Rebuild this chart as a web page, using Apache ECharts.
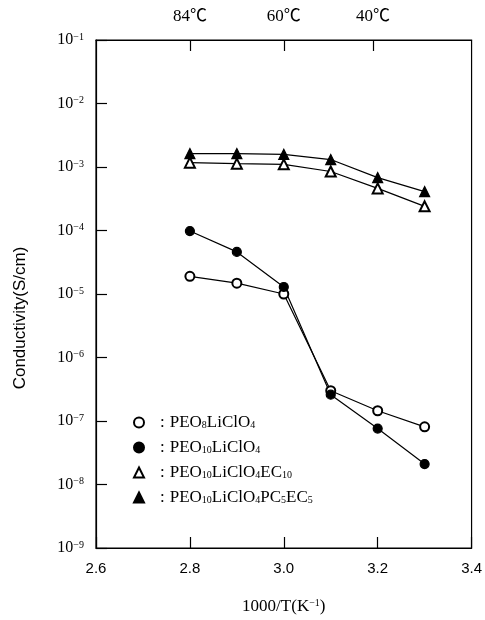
<!DOCTYPE html>
<html>
<head>
<meta charset="utf-8">
<script src="https://cdn.jsdelivr.net/npm/echarts@6/dist/echarts.min.js"></script>
<style>html,body{margin:0;padding:0;background:#fff}#c{width:485px;height:620px}</style>
</head>
<body>
<div id="c"></div>
<script>
// Data
const xValues = [2.8, 2.9, 3.0, 3.1, 3.2, 3.3];
const peo8LiClO4 = [1.9e-5, 1.48e-5, 1.0e-5, 3.0e-7, 1.45e-7, 8.1e-8];
const peo10LiClO4 = [9.8e-5, 4.6e-5, 1.29e-5, 2.6e-7, 7.6e-8, 2.1e-8];
const peo10EC10 = [1.17e-3, 1.13e-3, 1.1e-3, 8.5e-4, 4.6e-4, 2.4e-4];
const peo10PC5EC5 = [1.63e-3, 1.63e-3, 1.58e-3, 1.31e-3, 6.8e-4, 4.1e-4];
const xTicks = [2.6, 2.8, 3.0, 3.2, 3.4];
const topTickValues = [2.80, 3.00, 3.19];
const topTickLabels = ['84℃', '60℃', '40℃'];
const seriesNames = ['PEO8LiClO4', 'PEO10LiClO4', 'PEO10LiClO4EC10', 'PEO10LiClO4PC5EC5'];
const legendRich = {
  'PEO8LiClO4': '{c|:}{n|PEO}{s|8}{n|LiClO}{s|4}',
  'PEO10LiClO4': '{c|:}{n|PEO}{s|10}{n|LiClO}{s|4}',
  'PEO10LiClO4EC10': '{c|:}{n|PEO}{s|10}{n|LiClO}{s|4}{n|EC}{s|10}',
  'PEO10LiClO4PC5EC5': '{c|:}{n|PEO}{s|10}{n|LiClO}{s|4}{n|PC}{s|5}{n|EC}{s|5}'
};

const serif = '"Liberation Serif", "Noto Sans CJK SC", serif';
const sans = '"Liberation Sans", sans-serif';
const pairs = arr => xValues.map((x, i) => [x, arr[i]]);

const chart = echarts.init(document.getElementById('c'));
const lineStyle = { color: '#000', width: 1.2 };
const mk = (name, data, symbol, size) => ({
  name, type: 'line', data: pairs(data), symbol, symbolSize: size,
  lineStyle, itemStyle: { color: '#000', borderColor: '#000', borderWidth: 1.2 },
  emphasis: { disabled: true }, animation: false, z: 3
});

chart.setOption({
  animation: false,
  backgroundColor: '#fff',
  grid: { left: 96, right: 8, top: 40, bottom: 70, show: true, borderColor: '#000', borderWidth: 1.2 },
  xAxis: [{
    type: 'value', min: 2.6, max: 3.4, interval: 0.2, position: 'bottom',
    axisLine: { lineStyle: { color: '#000', width: 1.2 } },
    axisTick: { inside: true, length: 11, lineStyle: { color: '#000', width: 1.2 } },
    axisLabel: { margin: 13, color: '#000', fontFamily: sans, fontSize: 15, formatter: v => v.toFixed(1) },
    splitLine: { show: false },
    name: '1000/T(K{e|−1})', nameLocation: 'middle', nameGap: 50,
    nameTextStyle: { color: '#000', fontFamily: serif, fontSize: 17,
      rich: { e: { fontFamily: serif, fontSize: 10, verticalAlign: 'top', lineHeight: 10 } } }
  }, {
    type: 'value', min: 2.6, max: 3.4, position: 'top',
    axisLine: { lineStyle: { color: '#000', width: 1.2 } },
    axisTick: { inside: true, length: 11, customValues: topTickValues, lineStyle: { color: '#000', width: 1.2 } },
    axisLabel: { margin: 15, color: '#000', fontFamily: serif, fontSize: 17, customValues: topTickValues,
      formatter: v => { const i = topTickValues.findIndex(t => Math.abs(t - v) < 1e-6); return i >= 0 ? topTickLabels[i] : ''; } },
    splitLine: { show: false }
  }],
  yAxis: {
    type: 'log', logBase: 10, min: 1e-9, max: 1e-1,
    axisLine: { lineStyle: { color: '#000', width: 1.2 } },
    axisTick: { inside: true, length: 11, lineStyle: { color: '#000', width: 1.2 } },
    minorTick: { show: false },
    splitLine: { show: false },
    axisLabel: {
      margin: 12, color: '#000', fontFamily: serif,
      formatter: v => { const e = Math.round(Math.log10(v)); return '{b|10}{e|−' + (-e) + '}'; },
      rich: {
        b: { fontFamily: serif, fontSize: 16, lineHeight: 16 },
        e: { fontFamily: serif, fontSize: 10, lineHeight: 10, verticalAlign: 'top' }
      }
    }
  },
  legend: {
    orient: 'vertical', left: 128, top: 409, itemWidth: 10, itemHeight: 10, itemGap: 8,
    selectedMode: false,
    data: [
      { name: seriesNames[0], icon: 'emptyCircle' },
      { name: seriesNames[1], icon: 'circle' },
      { name: seriesNames[2], icon: 'emptyTriangle' },
      { name: seriesNames[3], icon: 'triangle' }
    ],
    formatter: n => legendRich[n],
    textStyle: {
      color: '#000', fontFamily: serif, fontSize: 17,
      rich: {
        c: { fontFamily: serif, fontSize: 17, lineHeight: 16, padding: [0, 5, 0, 11] },
        n: { fontFamily: serif, fontSize: 17, lineHeight: 16 },
        s: { fontFamily: serif, fontSize: 10, lineHeight: 9, verticalAlign: 'bottom' }
      }
    }
  },
  graphic: [{
    type: 'text', x: 20, y: 318, rotation: Math.PI / 2,
    style: { text: 'Conductivity(S/cm)', fontFamily: sans, fontSize: 17, fill: '#000', align: 'center', verticalAlign: 'middle' }
  }],
  series: [
    mk(seriesNames[0], peo8LiClO4, 'emptyCircle', 9),
    mk(seriesNames[1], peo10LiClO4, 'circle', 9),
    mk(seriesNames[2], peo10EC10, 'emptyTriangle', 10),
    mk(seriesNames[3], peo10PC5EC5, 'triangle', 10)
  ]
});
</script>
</body>
</html>
